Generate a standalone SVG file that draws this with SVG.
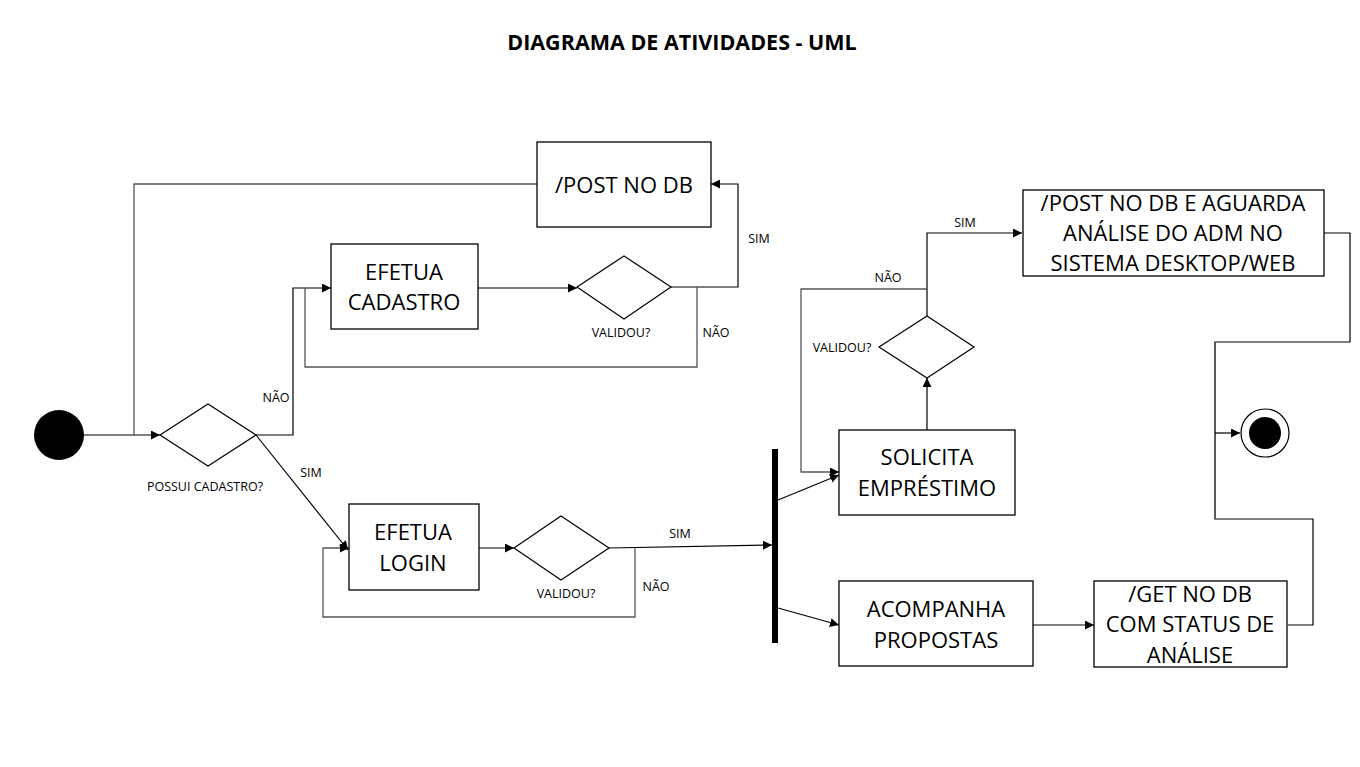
<svg xmlns="http://www.w3.org/2000/svg" width="1360" height="767" viewBox="0 0 1360 767">
<defs>
<marker id="ah" viewBox="0 0 10 10" refX="10" refY="5" markerWidth="9" markerHeight="9" markerUnits="userSpaceOnUse" orient="auto">
<path d="M0,0 L10,5 L0,10 z" fill="#000"/>
</marker>
</defs>
<style>
.box{fill:#fff;stroke:#000;stroke-width:1.3}
.dia{fill:#fff;stroke:#000;stroke-width:1.2}
.t{font-family:"Open Sans","Noto Sans",sans-serif;font-size:22px;fill:#000;text-anchor:middle}
.l{font-family:"Open Sans","Noto Sans",sans-serif;font-size:12.5px;fill:#000;text-anchor:middle}
.c{fill:none;stroke:#000;stroke-width:1.2}
.g{fill:none;stroke:#555;stroke-width:1.3}
.title{font-family:"Open Sans","Noto Sans",sans-serif;font-size:21.5px;font-weight:bold;fill:#000;text-anchor:middle}
</style>
<rect width="1360" height="767" fill="#fff"/>
<text class="title" x="682" y="50">DIAGRAMA DE ATIVIDADES - UML</text>

<g id="connectors">
<path class="c" d="M84,435 L160,435" marker-end="url(#ah)"/>
<path class="g" d="M537,184 L134,184 L134,435"/>
<path class="c" d="M256,435 L293,435 L293,288 L331,288" marker-end="url(#ah)"/>
<path class="c" d="M256,435 L348,550" marker-end="url(#ah)"/>
<path class="c" d="M478,288 L577,288" marker-end="url(#ah)"/>
<path class="c" d="M671,287 L738,287 L738,184 L711,184" marker-end="url(#ah)"/>
<path class="g" d="M697,287 L697,367 L305,367 L305,288"/>
<path class="c" d="M479,548 L514,548" marker-end="url(#ah)"/>
<path class="c" d="M609,548 L772,545" marker-end="url(#ah)"/>
<path class="g" d="M635,548 L635,617 L323,617 L323,548 L349,548" marker-end="url(#ah)"/>
<path class="c" d="M778,500 L839,475" marker-end="url(#ah)"/>
<path class="c" d="M778,608 L839,625" marker-end="url(#ah)"/>
<path class="c" d="M927,430 L927,378" marker-end="url(#ah)"/>
<path class="c" d="M927,316 L927,233 L1022,233" marker-end="url(#ah)"/>
<path class="g" d="M927,289 L801,289 L801,472 L839,472" marker-end="url(#ah)"/>
<path class="c" d="M1324,233 L1350,233 L1350,342 L1215,342 L1215,519 L1313,519 L1313,625 L1288,625"/>
<path class="g" d="M1215,342 L1215,519"/>
<path class="c" d="M1215,433 L1240,433" marker-end="url(#ah)"/>
<path class="c" d="M1033,625 L1094,625" marker-end="url(#ah)"/>
<text class="l" x="276" y="402">NÃO</text>
<text class="l" x="311" y="477">SIM</text>
<text class="l" x="759" y="243">SIM</text>
<text class="l" x="716" y="337">NÃO</text>
<text class="l" x="680" y="538">SIM</text>
<text class="l" x="656" y="591">NÃO</text>
<text class="l" x="888" y="282">NÃO</text>
<text class="l" x="965" y="227">SIM</text>
</g>

<g id="start"><circle cx="59" cy="435" r="25" fill="#000"/></g>

<g id="d1">
<polygon class="dia" points="160,435 208,404 256,435 208,466"/>
<text class="l" x="205" y="491">POSSUI CADASTRO?</text>
</g>

<g id="cadastro">
<rect class="box" x="331" y="244" width="147" height="85"/>
<text class="t" x="404" y="280">EFETUA</text>
<text class="t" x="404" y="310">CADASTRO</text>
</g>

<g id="d2">
<polygon class="dia" points="577,287 624,256 671,287 624,319"/>
<text class="l" x="621" y="337">VALIDOU?</text>
</g>

<g id="post">
<rect class="box" x="537" y="142" width="174" height="85"/>
<text class="t" x="624" y="193">/POST NO DB</text>
</g>

<g id="login">
<rect class="box" x="349" y="504" width="130" height="86"/>
<text class="t" x="413" y="540">EFETUA</text>
<text class="t" x="413" y="571">LOGIN</text>
</g>

<g id="d3">
<polygon class="dia" points="514,548 561,516 609,548 561,580"/>
<text class="l" x="566" y="598">VALIDOU?</text>
</g>

<g id="fork"><rect x="772" y="449" width="6" height="194" fill="#000"/></g>

<g id="solicita">
<rect class="box" x="839" y="430" width="176" height="85"/>
<text class="t" x="927" y="465">SOLICITA</text>
<text class="t" x="927" y="496">EMPRÉSTIMO</text>
</g>

<g id="d4">
<polygon class="dia" points="879,347 927,316 974,347 927,378"/>
<text class="l" x="842" y="352">VALIDOU?</text>
</g>

<g id="aguarda">
<rect class="box" x="1023" y="190" width="301" height="86"/>
<text class="t" x="1173" y="211">/POST NO DB E AGUARDA</text>
<text class="t" x="1173" y="241">ANÁLISE DO ADM NO</text>
<text class="t" x="1173" y="271">SISTEMA DESKTOP/WEB</text>
</g>

<g id="acompanha">
<rect class="box" x="839" y="581" width="194" height="85"/>
<text class="t" x="936" y="617">ACOMPANHA</text>
<text class="t" x="936" y="648">PROPOSTAS</text>
</g>

<g id="get">
<rect class="box" x="1094" y="581" width="193" height="86"/>
<text class="t" x="1190" y="602">/GET NO DB</text>
<text class="t" x="1190" y="632">COM STATUS DE</text>
<text class="t" x="1190" y="663">ANÁLISE</text>
</g>

<g id="end">
<circle cx="1265" cy="433" r="24" fill="#fff" stroke="#000" stroke-width="1.2"/>
<circle cx="1265" cy="433" r="16" fill="#000"/>
</g>
</svg>
